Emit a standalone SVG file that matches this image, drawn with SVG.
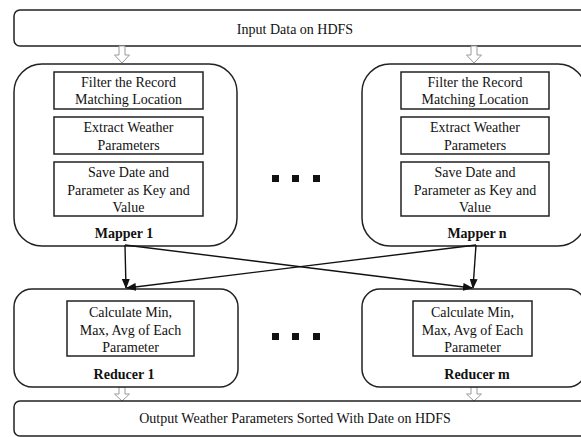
<svg xmlns="http://www.w3.org/2000/svg" width="581" height="437" viewBox="0 0 581 437">
<style>
  .box { fill: #fff; stroke: #222; stroke-width: 1.5; }
  .inner { fill: #fff; stroke: #222; stroke-width: 1.5; }
  .t { font-family: "Liberation Serif", "Times New Roman", "DejaVu Serif", serif; font-size: 14px; fill: #111; text-anchor: middle; }
  .b { font-weight: bold; }
  .hollow { fill: #fff; stroke: #999; stroke-width: 1; }
  .conn { stroke: #111; stroke-width: 1.4; fill: none; marker-end: url(#ah); }
  .dot { fill: #111; }
</style>
<defs>
  <marker id="ah" markerWidth="10" markerHeight="8" refX="9" refY="4" orient="auto" markerUnits="userSpaceOnUse">
    <path d="M0,0 L10,4 L0,8 Z" fill="#111"/>
  </marker>
</defs>
<rect width="581" height="437" fill="#fff"/>

<g id="input">
  <rect class="box" x="14" y="10" width="580" height="36" rx="6"/>
  <text class="t" x="295" y="34">Input Data on HDFS</text>
</g>

<g id="hollow-arrows">
  <path class="hollow" d="M119,46 L125,46 L125,55 L129.5,55 L122,63 L114.5,55 L119,55 Z"/>
  <path class="hollow" d="M471,46 L477,46 L477,55 L481.5,55 L474,63 L466.5,55 L471,55 Z"/>
  <path class="hollow" d="M119,387 L125,387 L125,394 L129.5,394 L122,401 L114.5,394 L119,394 Z"/>
  <path class="hollow" d="M471,387 L477,387 L477,394 L481.5,394 L474,401 L466.5,394 L471,394 Z"/>
</g>

<g id="mapper1">
  <rect class="box" x="14" y="64" width="223" height="182" rx="28"/>
  <rect class="inner" x="54" y="72" width="149" height="37"/>
  <text class="t" x="128.5" y="87">Filter the Record</text>
  <text class="t" x="128.5" y="104">Matching Location</text>
  <rect class="inner" x="54" y="117" width="149" height="37"/>
  <text class="t" x="128.5" y="132">Extract Weather</text>
  <text class="t" x="128.5" y="150">Parameters</text>
  <rect class="inner" x="54" y="162" width="149" height="54"/>
  <text class="t" x="128.5" y="177">Save Date and</text>
  <text class="t" x="128.5" y="195">Parameter as Key and</text>
  <text class="t" x="128.5" y="212">Value</text>
  <text class="t b" x="124" y="238">Mapper 1</text>
</g>

<g id="mappern">
  <rect class="box" x="362" y="64" width="224" height="182" rx="28"/>
  <rect class="inner" x="401" y="72" width="148" height="37"/>
  <text class="t" x="475" y="87">Filter the Record</text>
  <text class="t" x="475" y="104">Matching Location</text>
  <rect class="inner" x="401" y="117" width="148" height="37"/>
  <text class="t" x="475" y="132">Extract Weather</text>
  <text class="t" x="475" y="150">Parameters</text>
  <rect class="inner" x="401" y="162" width="148" height="54"/>
  <text class="t" x="475" y="177">Save Date and</text>
  <text class="t" x="475" y="195">Parameter as Key and</text>
  <text class="t" x="475" y="212">Value</text>
  <text class="t b" x="477" y="238">Mapper n</text>
</g>

<g id="mapper-dots">
  <rect class="dot" x="272" y="175" width="7" height="7"/>
  <rect class="dot" x="292" y="175" width="7" height="7"/>
  <rect class="dot" x="313" y="175" width="7" height="7"/>
</g>

<g id="reducer1">
  <rect class="box" x="14" y="289" width="224" height="98" rx="18"/>
  <rect class="inner" x="67" y="301" width="127" height="55"/>
  <text class="t" x="130.5" y="317">Calculate Min,</text>
  <text class="t" x="130.5" y="335">Max, Avg of Each</text>
  <text class="t" x="130.5" y="352">Parameter</text>
  <text class="t b" x="124" y="379">Reducer 1</text>
</g>

<g id="reducerm">
  <rect class="box" x="362" y="289" width="224" height="98" rx="18"/>
  <rect class="inner" x="413" y="301" width="119" height="55"/>
  <text class="t" x="472.5" y="317">Calculate Min,</text>
  <text class="t" x="472.5" y="335">Max, Avg of Each</text>
  <text class="t" x="472.5" y="352">Parameter</text>
  <text class="t b" x="477" y="379">Reducer m</text>
</g>

<g id="reducer-dots">
  <rect class="dot" x="272" y="333" width="7" height="7"/>
  <rect class="dot" x="292" y="333" width="7" height="7"/>
  <rect class="dot" x="313" y="333" width="7" height="7"/>
</g>

<g id="output">
  <rect class="box" x="14" y="401" width="580" height="35" rx="6"/>
  <text class="t" x="295" y="423">Output Weather Parameters Sorted With Date on HDFS</text>
</g>

<g id="connectors">
  <line class="conn" x1="125" y1="245" x2="126" y2="288"/>
  <line class="conn" x1="125" y1="245" x2="472" y2="288"/>
  <line class="conn" x1="476" y1="245" x2="473" y2="288"/>
  <line class="conn" x1="476" y1="245" x2="127" y2="288"/>
</g>
</svg>
